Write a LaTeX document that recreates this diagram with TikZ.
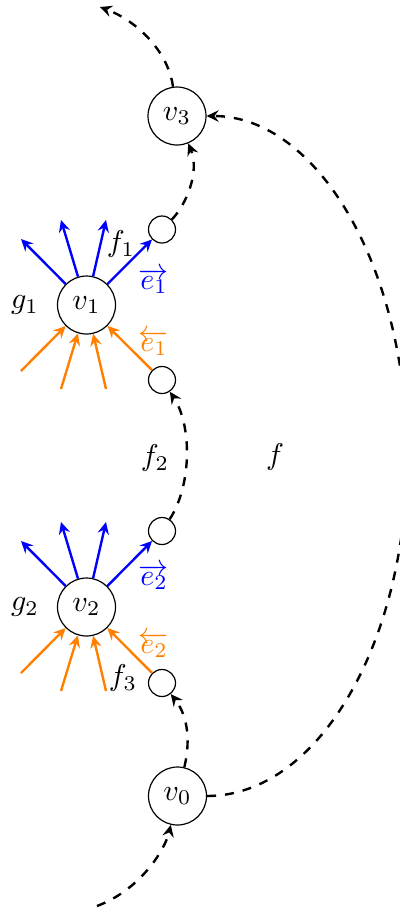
\documentclass[tikz,border=0pt]{standalone}
\usetikzlibrary{arrows.meta}
\begin{document}
\begin{tikzpicture}[x=0.3333pt,y=-0.3333pt,
  vtx/.style={circle,draw,minimum size=19.33pt,inner sep=0pt},
  port/.style={circle,draw,minimum size=9pt,inner sep=0pt},
  tipstyle/.style={-{Stealth[length=4pt,width=3.8pt,inset=1.4pt]}},
  bl/.style={tipstyle,blue,thick},
  og/.style={tipstyle,orange,thick},
  dsh/.style={tipstyle,dashed,thick},
  lbl/.style={inner sep=0pt}
]
\path[use as bounding box,clip] (0,0) rectangle (400,909);
% main vertices
\node[vtx] (v3) at (177,116) {$v_3$};
\node[vtx] (v1) at (86.5,305) {$v_1$};
\node[vtx] (v2) at (86.5,607) {$v_2$};
\node[vtx] (v0) at (177.5,796) {$v_0$};
% ports
\node[port] (c1) at (162,229.5) {};
\node[port] (c2) at (162,380) {};
\node[port] (c3) at (162,531) {};
\node[port] (c4) at (162,683) {};
% free ends
\coordinate (b11) at (21,239);
\coordinate (b12) at (61,220);
\coordinate (b13) at (106,220);
\coordinate (o11) at (21,371);
\coordinate (o12) at (61,389);
\coordinate (o13) at (106,389);
\coordinate (b21) at (21,541);
\coordinate (b22) at (61,522);
\coordinate (b23) at (106,522);
\coordinate (o21) at (21,673);
\coordinate (o22) at (61,691);
\coordinate (o23) at (106,691);
\coordinate (topend) at (100,7);
\coordinate (botend) at (97,906);
\coordinate (farright) at (407,456);
% blue outgoing
\draw[bl] (v1) -- (b11);
\draw[bl] (v1) -- (b12);
\draw[bl] (v1) -- (b13);
\draw[bl] (v1) -- (c1);
\draw[bl] (v2) -- (b21);
\draw[bl] (v2) -- (b22);
\draw[bl] (v2) -- (b23);
\draw[bl] (v2) -- (c3);
% orange incoming
\draw[og] (o11) -- (v1);
\draw[og] (o12) -- (v1);
\draw[og] (o13) -- (v1);
\draw[og] (c2) -- (v1);
\draw[og] (o21) -- (v2);
\draw[og] (o22) -- (v2);
\draw[og] (o23) -- (v2);
\draw[og] (c4) -- (v2);
% dashed connectors
\draw[dsh] (botend) .. controls (140,890) and (165,850) .. (v0);
\draw[dsh] (v0) .. controls (192,735) and (185,712) .. (c4);
\draw[dsh] (c3) .. controls (192,485) and (192,425) .. (c2);
\draw[dsh] (c1) .. controls (186,205) and (200,172) .. (v3);
\draw[dsh] (v3) .. controls (168,50) and (135,20) .. (topend);
\draw[dsh] (v0) .. controls (317.5,796) and (407,644) .. (farright)
  .. controls (407,268) and (317.5,116) .. (v3);
% labels
\node[lbl] (g1) at (25,305) {$g_1$};
\node[lbl] (g2) at (25,607) {$g_2$};
\node[lbl] (f1) at (121,244) {$f_1$};
\node[lbl] (f2) at (155,458) {$f_2$};
\node[lbl] (f3) at (123,678) {$f_3$};
\node[lbl] (f) at (275,457) {$f$};
\node[lbl,blue] (e1r) at (154,281) {$\overrightarrow{e_1}$};
\node[lbl,orange] (e1l) at (154,343) {$\overleftarrow{e_1}$};
\node[lbl,blue] (e2r) at (154,577) {$\overrightarrow{e_2}$};
\node[lbl,orange] (e2l) at (154,645) {$\overleftarrow{e_2}$};
\end{tikzpicture}
\end{document}
